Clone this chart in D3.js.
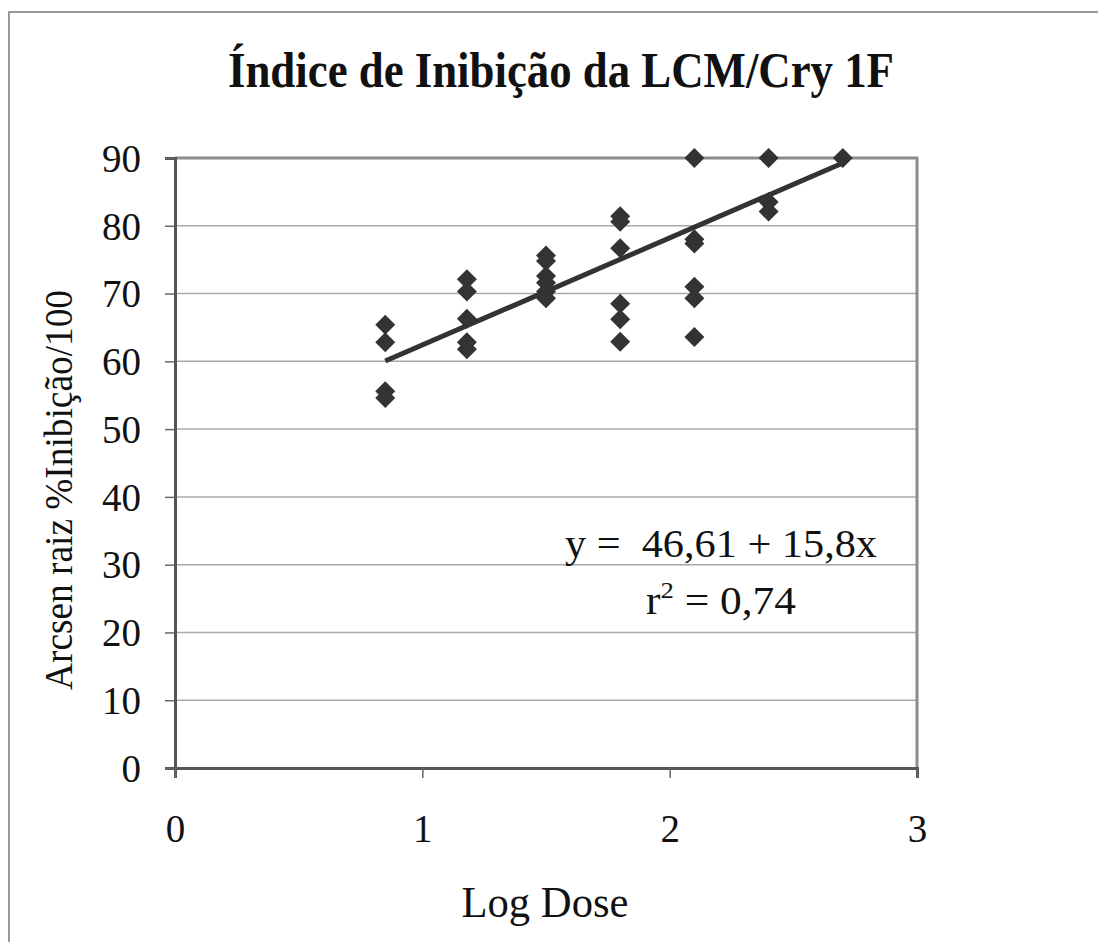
<!DOCTYPE html>
<html>
<head>
<meta charset="utf-8">
<script src="https://cdn.jsdelivr.net/npm/d3@7"></script>
<style>
  body { margin: 0; background: #fff; }
  text { font-family: "Liberation Serif", "Times New Roman", serif; fill: #111; }
</style>
</head>
<body>
<div id="chart"></div>
<script>
// log dose groups and the arcsen values read at each one
var doses = [0.85, 1.18, 1.5, 1.8, 2.1, 2.4, 2.7];
var valores = [
  [65.4, 62.8, 55.6, 54.6],
  [72.1, 70.3, 66.3, 62.8, 61.8],
  [75.6, 74.8, 72.6, 71.6, 70.3, 69.3],
  [81.4, 80.6, 76.7, 68.5, 66.2, 62.9],
  [90, 78.0, 77.4, 71.0, 69.3, 63.6],
  [90, 83.5, 82.1],
  [90]
];
var xTicks = [0, 1, 2, 3];
var yTicks = [0, 10, 20, 30, 40, 50, 60, 70, 80, 90];
var intercepto = 46.61, inclinacao = 15.8;

var chart = { width: 1098, height: 942 };
var x = d3.scaleLinear().domain([0, 3]).range([175, 917]);
var y = d3.scaleLinear().domain([0, 90]).range([768, 158]);

var pontos = [];
doses.forEach(function(d, i) {
  valores[i].forEach(function(v) { pontos.push({ dose: d, val: v }); });
});

var svg = d3.select('#chart').append('svg')
    .attr('width', chart.width)
    .attr('height', chart.height);

// outer frame
svg.append('path')
    .attr('d', 'M9,942 L9,12 L1098,12')
    .attr('fill', 'none')
    .attr('stroke', '#9a9a9a')
    .attr('stroke-width', 2);

svg.append('text')
    .attr('x', 561).attr('y', 87)
    .attr('text-anchor', 'middle')
    .attr('textLength', 666)
    .attr('lengthAdjust', 'spacingAndGlyphs')
    .style('font-size', '50px')
    .style('font-weight', 'bold')
    .text('Índice de Inibição da LCM/Cry 1F');

// grid
svg.append('g').selectAll('line.grid')
    .data(yTicks.filter(function(t) { return t > 0 && t < 90; }))
  .enter().append('line')
    .attr('class', 'grid')
    .attr('x1', x(0)).attr('x2', x(3))
    .attr('y1', function(d) { return y(d); })
    .attr('y2', function(d) { return y(d); })
    .attr('stroke', '#a8a8a8')
    .attr('stroke-width', 1.5);

// plot frame top + right
svg.append('path')
    .attr('d', 'M' + x(0) + ',' + y(90) + ' L' + x(3) + ',' + y(90) + ' L' + x(3) + ',' + y(0))
    .attr('fill', 'none')
    .attr('stroke', '#8c8c8c')
    .attr('stroke-width', 3);

var yAxis = svg.append('g')
    .attr('transform', 'translate(' + x(0) + ',0)')
    .call(d3.axisLeft(y).tickValues(yTicks).tickSize(10).tickPadding(24).tickFormat(d3.format('d')));
var xAxis = svg.append('g')
    .attr('transform', 'translate(0,' + y(0) + ')')
    .call(d3.axisBottom(x).tickValues(xTicks).tickSize(10).tickPadding(36).tickFormat(d3.format('d')));

[yAxis, xAxis].forEach(function(ax) {
  ax.select('.domain').attr('stroke', '#555').attr('stroke-width', 3);
  ax.selectAll('.tick line').attr('stroke', '#666').attr('stroke-width', 1.5);
  ax.selectAll('.tick text')
      .style('font-family', '"Liberation Serif", serif')
      .style('font-size', '39px')
      .attr('fill', '#111');
});
yAxis.selectAll('.tick text').attr('dy', '0.34em');

// trend line
svg.append('line')
    .attr('x1', x(0.85)).attr('y1', y(intercepto + inclinacao * 0.85))
    .attr('x2', x(2.7)).attr('y2', y(intercepto + inclinacao * 2.7))
    .attr('stroke', '#333')
    .attr('stroke-width', 5);

svg.append('g').selectAll('path.pt')
    .data(pontos)
  .enter().append('path')
    .attr('class', 'pt')
    .attr('d', 'M0,-10 L10,0 L0,10 L-10,0 Z')
    .attr('transform', function(d) { return 'translate(' + x(d.dose) + ',' + y(d.val) + ')'; })
    .attr('fill', '#333');

// equation
svg.append('text')
    .attr('x', 721).attr('y', 557)
    .attr('text-anchor', 'middle')
    .attr('textLength', 312)
    .attr('lengthAdjust', 'spacingAndGlyphs')
    .style('font-size', '39px')
    .style('white-space', 'pre')
    .text('y =  46,61 + 15,8x');
var r2 = svg.append('text')
    .attr('x', 721).attr('y', 614)
    .attr('text-anchor', 'middle')
    .attr('textLength', 150)
    .attr('lengthAdjust', 'spacingAndGlyphs')
    .style('font-size', '39px');
r2.append('tspan').text('r');
r2.append('tspan').attr('dy', -16).style('font-size', '24px').text('2');
r2.append('tspan').attr('dy', 16).text(' = 0,74');

svg.append('text')
    .attr('transform', 'translate(72,490) rotate(-90)')
    .attr('text-anchor', 'middle')
    .attr('textLength', 400)
    .attr('lengthAdjust', 'spacingAndGlyphs')
    .style('font-size', '40px')
    .text('Arcsen raiz %Inibição/100');

svg.append('text')
    .attr('x', 545).attr('y', 917)
    .attr('text-anchor', 'middle')
    .attr('textLength', 167)
    .attr('lengthAdjust', 'spacingAndGlyphs')
    .style('font-size', '44px')
    .text('Log Dose');
</script>
</body>
</html>
